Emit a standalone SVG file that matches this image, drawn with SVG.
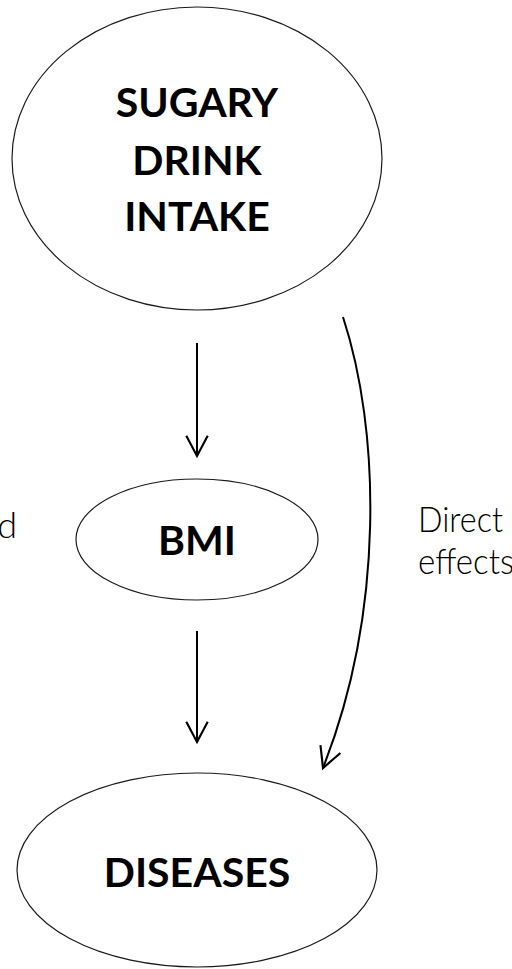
<svg xmlns="http://www.w3.org/2000/svg" width="512" height="969" viewBox="0 0 512 969">
  <style>
    .node { fill: #ffffff; stroke: #1a1a1a; stroke-width: 1.2; }
    .title { font-family: Lato, "Liberation Sans", sans-serif; font-weight: 700; font-size: 41px; fill: #000; text-anchor: middle; }
    .note { font-family: Lato, "Liberation Sans", sans-serif; font-weight: 300; font-size: 36px; fill: #000; }
    .link { fill: none; stroke: #000; stroke-width: 2; }
  </style>
  <defs>
    <marker id="head" markerUnits="userSpaceOnUse" markerWidth="30" markerHeight="30" viewBox="-24 -14 28 28" refX="0" refY="0" orient="auto">
      <path d="M-19,-10 L0,0 L-19,10" fill="none" stroke="#000" stroke-width="2" stroke-linejoin="miter"/>
    </marker>
  </defs>

  <rect width="512" height="969" fill="#ffffff"/>

  <!-- exposure -->
  <g id="intake">
    <ellipse class="node" cx="197" cy="158.5" rx="185" ry="151.5"/>
    <text class="title" x="197" y="117">SUGARY</text>
    <text class="title" x="197" y="175">DRINK</text>
    <text class="title" x="197" y="231">INTAKE</text>
  </g>

  <!-- mediator -->
  <g id="bmi">
    <ellipse class="node" cx="197" cy="539.5" rx="121" ry="60.5"/>
    <text class="title" x="197" y="555">BMI</text>
  </g>

  <!-- outcome -->
  <g id="diseases">
    <ellipse class="node" cx="197" cy="870" rx="180" ry="97"/>
    <text class="title" x="197" y="887">DISEASES</text>
  </g>

  <!-- path labels -->
  <g id="labels">
    <text class="note" x="17" y="538" text-anchor="end">d</text>
    <text class="note" x="418" y="532" textLength="85" lengthAdjust="spacingAndGlyphs">Direct</text>
    <text class="note" x="418" y="574" textLength="96" lengthAdjust="spacingAndGlyphs">effects</text>
  </g>

  <g id="connectors">
    <line class="link" x1="197" y1="343" x2="197" y2="456" marker-end="url(#head)"/>
    <line class="link" x1="197" y1="631" x2="197" y2="742" marker-end="url(#head)"/>
    <path class="link" d="M343,317 C380,430 385,610 323,768" marker-end="url(#head)"/>
  </g>
</svg>
